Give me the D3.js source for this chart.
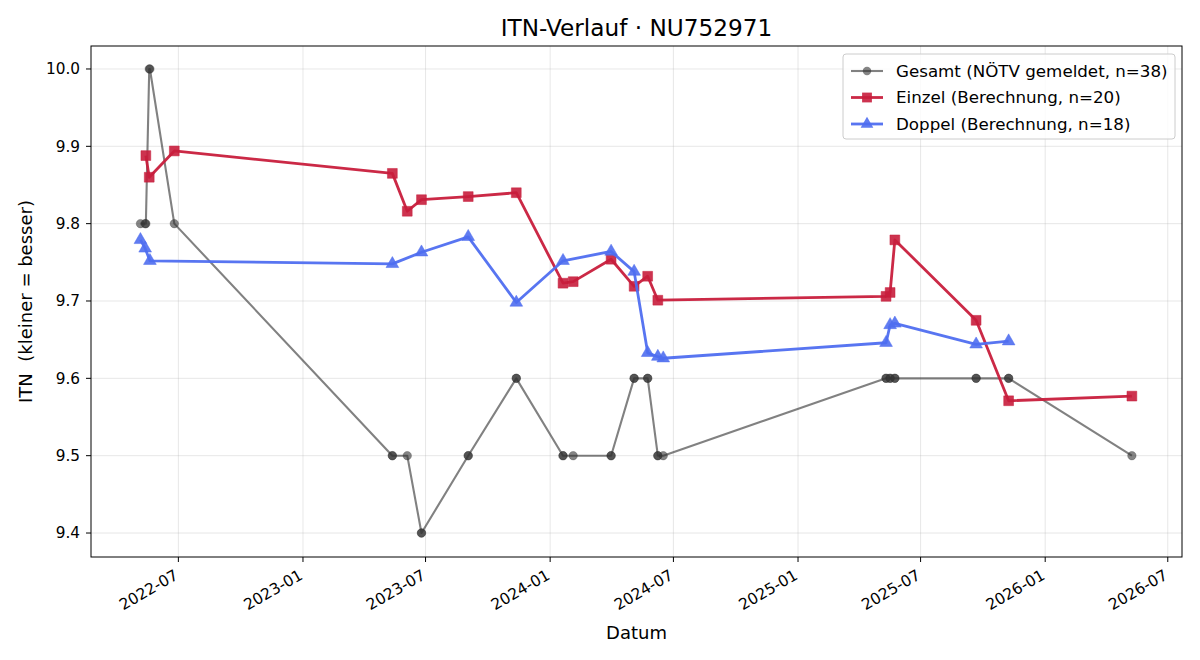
<!DOCTYPE html>
<html>
<head>
<meta charset="utf-8">
<script src="https://cdn.jsdelivr.net/npm/d3@7"></script>
<style>
body { margin: 0; background: #fff; }
text { font-family: "DejaVu Sans", sans-serif; }
</style>
</head>
<body>
<div id="chart"></div>
<script>
// --- data ---
var gesamtDates = ["2022-05-06","2022-05-13","2022-05-14","2022-05-19","2022-05-20","2022-06-25",
	"2023-05-13","2023-05-13","2023-06-04","2023-06-25","2023-06-25","2023-09-02","2023-09-02",
	"2023-11-12","2023-11-12","2024-01-20","2024-01-20","2024-02-04","2024-03-31","2024-03-31",
	"2024-05-04","2024-05-04","2024-05-24","2024-05-24","2024-06-08","2024-06-08","2024-06-16",
	"2025-05-11","2025-05-11","2025-05-17","2025-05-17","2025-05-24","2025-05-24",
	"2025-09-21","2025-09-21","2025-11-08","2025-11-08","2026-05-09"];
var gesamtValues = [9.8,9.8,9.8,10.0,10.0,9.8,
	9.5,9.5,9.5,9.4,9.4,9.5,9.5,
	9.6,9.6,9.5,9.5,9.5,9.5,9.5,
	9.6,9.6,9.6,9.6,9.5,9.5,9.5,
	9.6,9.6,9.6,9.6,9.6,9.6,
	9.6,9.6,9.6,9.6,9.5];

var einzelDates = ["2022-05-14","2022-05-19","2022-06-25","2023-05-13","2023-06-04","2023-06-25",
	"2023-09-02","2023-11-12","2024-01-20","2024-02-04","2024-03-31","2024-05-04","2024-05-24",
	"2024-06-08","2025-05-11","2025-05-17","2025-05-24","2025-09-21","2025-11-08","2026-05-09"];
var einzelValues = [9.888,9.860,9.894,9.865,9.816,9.831,
	9.835,9.840,9.723,9.725,9.754,9.719,9.732,
	9.701,9.706,9.711,9.779,9.675,9.571,9.577];

var doppelDates = ["2022-05-06","2022-05-13","2022-05-20","2023-05-13","2023-06-25","2023-09-02",
	"2023-11-12","2024-01-20","2024-03-31","2024-05-04","2024-05-24","2024-06-08","2024-06-16",
	"2025-05-11","2025-05-17","2025-05-24","2025-09-21","2025-11-08"];
var doppelValues = [9.779,9.768,9.752,9.748,9.763,9.783,
	9.698,9.752,9.764,9.738,9.633,9.628,9.626,
	9.646,9.669,9.671,9.644,9.648];

var xTickLabels = ["2022-07","2023-01","2023-07","2024-01","2024-07","2025-01","2025-07","2026-01","2026-07"];
var yTickLabels = ["9.4","9.5","9.6","9.7","9.8","9.9","10.0"];

var seriesNames = ["Gesamt (NÖTV gemeldet, n=38)","Einzel (Berechnung, n=20)","Doppel (Berechnung, n=18)"];

(function() {
	// --- layout ---
	var W = 1200, H = 660;
	var mLeft = 91, mRight = 1182, mTop = 46, mBottom = 557;

	var parse = d3.utcParse("%Y-%m-%d");

	function pairs(dates, vals) {
		return dates.map(function(d, i) { return {date: parse(d), value: vals[i]}; });
	}

	var series = [
		{name: seriesNames[0], data: pairs(gesamtDates, gesamtValues), color: "#333333", lineOpacity: 0.62, width: 2.1, marker: "circle"},
		{name: seriesNames[1], data: pairs(einzelDates, einzelValues), color: "#c81d3c", lineOpacity: 0.95, width: 2.8, marker: "square"},
		{name: seriesNames[2], data: pairs(doppelDates, doppelValues), color: "#4f6ef0", lineOpacity: 0.95, width: 2.8, marker: "triangle"}
	];

	var x = d3.scaleUtc()
		.domain([parse("2022-02-22"), parse("2026-07-22")])
		.range([mLeft, mRight]);
	var y = d3.scaleLinear()
		.domain([9.369, 10.0297])
		.range([mBottom, mTop]);

	var svg = d3.select("#chart").append("svg")
		.attr("width", W).attr("height", H);

	// grid
	var xTicks = xTickLabels.map(function(t) { return parse(t + "-01"); });
	var yTicks = yTickLabels.map(Number);

	svg.append("g").selectAll("line")
		.data(xTicks).enter().append("line")
		.attr("x1", function(d) { return x(d); }).attr("x2", function(d) { return x(d); })
		.attr("y1", mTop).attr("y2", mBottom)
		.attr("stroke", "#b0b0b0").attr("stroke-opacity", 0.3).attr("stroke-width", 1);
	svg.append("g").selectAll("line")
		.data(yTicks).enter().append("line")
		.attr("x1", mLeft).attr("x2", mRight)
		.attr("y1", function(d) { return y(d); }).attr("y2", function(d) { return y(d); })
		.attr("stroke", "#b0b0b0").attr("stroke-opacity", 0.3).attr("stroke-width", 1);

	// series
	var line = d3.line()
		.x(function(d) { return x(d.date); })
		.y(function(d) { return y(d.value); });

	var symbolType = {circle: d3.symbolCircle, square: d3.symbolSquare, triangle: d3.symbolTriangle};
	var symbolSize = {circle: 56, square: 96, triangle: 70};

	series.forEach(function(s) {
		var g = svg.append("g");
		g.append("path")
			.datum(s.data)
			.attr("d", line)
			.attr("fill", "none")
			.attr("stroke", s.color)
			.attr("stroke-opacity", s.lineOpacity)
			.attr("stroke-width", s.width)
			.attr("stroke-linejoin", "round");
		g.selectAll("path.m")
			.data(s.data).enter().append("path")
			.attr("class", "m")
			.attr("transform", function(d) { return "translate(" + x(d.date) + "," + y(d.value) + ")"; })
			.attr("d", d3.symbol().type(symbolType[s.marker]).size(symbolSize[s.marker]))
			.attr("fill", s.color)
			.attr("fill-opacity", s.marker == "circle" ? 0.6 : 0.9)
			.attr("stroke", s.color)
			.attr("stroke-opacity", s.marker == "circle" ? 0.3 : 0.5)
			.attr("stroke-width", 1);
	});

	// frame
	svg.append("rect")
		.attr("x", mLeft).attr("y", mTop)
		.attr("width", mRight - mLeft).attr("height", mBottom - mTop)
		.attr("fill", "none").attr("stroke", "#000").attr("stroke-width", 1);

	// x axis ticks and labels
	var xa = svg.append("g");
	xa.selectAll("line").data(xTicks).enter().append("line")
		.attr("x1", function(d) { return x(d); }).attr("x2", function(d) { return x(d); })
		.attr("y1", mBottom).attr("y2", mBottom + 5)
		.attr("stroke", "#000");
	xa.selectAll("text").data(xTickLabels).enter().append("text")
		.attr("transform", function(d, i) { return "translate(" + (x(xTicks[i]) - 5) + "," + (mBottom + 11) + ") rotate(-30)"; })
		.attr("text-anchor", "end")
		.attr("dy", "0.76em")
		.attr("font-size", "15.5px")
		.text(function(d) { return d; });

	// y axis ticks and labels
	var ya = svg.append("g");
	ya.selectAll("line").data(yTicks).enter().append("line")
		.attr("x1", mLeft - 5).attr("x2", mLeft)
		.attr("y1", function(d) { return y(d); }).attr("y2", function(d) { return y(d); })
		.attr("stroke", "#000");
	ya.selectAll("text").data(yTickLabels).enter().append("text")
		.attr("x", mLeft - 11)
		.attr("y", function(d) { return y(+d); })
		.attr("dy", "0.35em")
		.attr("text-anchor", "end")
		.attr("font-size", "15.3px")
		.text(function(d) { return d; });

	// labels
	svg.append("text")
		.attr("x", (mLeft + mRight) / 2).attr("y", 36)
		.attr("text-anchor", "middle")
		.attr("font-size", "23.2px")
		.text("ITN-Verlauf · NU752971");
	svg.append("text")
		.attr("x", (mLeft + mRight) / 2).attr("y", 639)
		.attr("text-anchor", "middle")
		.attr("font-size", "18px")
		.text("Datum");
	svg.append("text")
		.attr("transform", "translate(32," + ((mTop + mBottom) / 2) + ") rotate(-90)")
		.attr("text-anchor", "middle")
		.attr("font-size", "18px")
		.style("white-space", "pre")
		.text("ITN  (kleiner = besser)");

	// legend
	var lg = svg.append("g").attr("transform", "translate(843,54)");
	lg.append("rect")
		.attr("width", 332).attr("height", 85)
		.attr("rx", 3)
		.attr("fill", "#fff").attr("fill-opacity", 0.8)
		.attr("stroke", "#cccccc");
	series.forEach(function(s, i) {
		var cy = 17 + i * 26.5;
		lg.append("line")
			.attr("x1", 8).attr("x2", 40).attr("y1", cy).attr("y2", cy)
			.attr("stroke", s.color).attr("stroke-opacity", s.lineOpacity)
			.attr("stroke-width", s.width);
		lg.append("path")
			.attr("transform", "translate(24," + cy + ")")
			.attr("d", d3.symbol().type(symbolType[s.marker]).size(symbolSize[s.marker]))
			.attr("fill", s.color)
			.attr("fill-opacity", s.marker == "circle" ? 0.6 : 0.9);
		lg.append("text")
			.attr("x", 53).attr("y", cy)
			.attr("dy", "0.35em")
			.attr("font-size", "16.7px")
			.text(s.name);
	});
})();
</script>
</body>
</html>
